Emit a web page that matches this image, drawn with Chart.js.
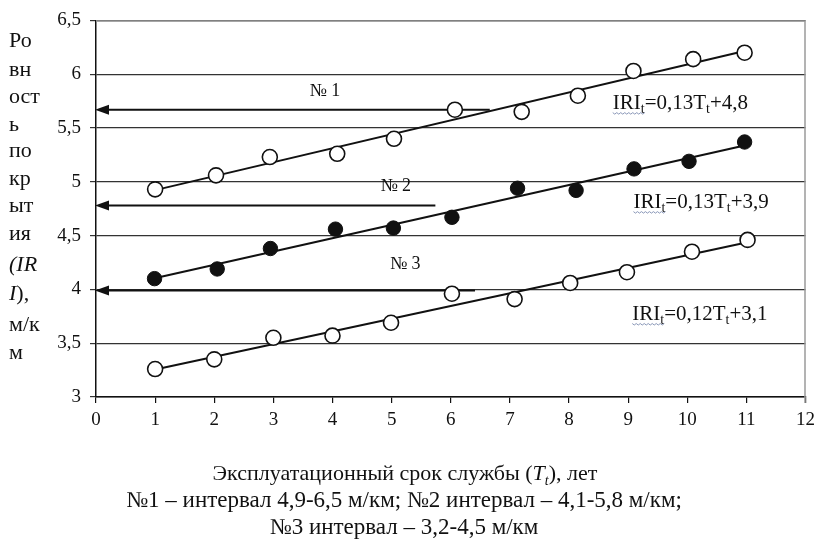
<!DOCTYPE html>
<html>
<head>
<meta charset="utf-8">
<script src="https://cdn.jsdelivr.net/npm/chart.js@4"></script>
<style>
html,body{margin:0;padding:0;background:#fff;}
canvas{display:block;}
</style>
</head>
<body>
<canvas id="c" width="821" height="539"></canvas>
<script>
// ---- data ----
const years1 = [1, 2.03, 2.94, 4.08, 5.04, 6.07, 7.2, 8.15, 9.09, 10.1, 10.97];
const iri1   = [4.93, 5.06, 5.23, 5.26, 5.40, 5.67, 5.65, 5.80, 6.03, 6.14, 6.20];
const years2 = [0.99, 2.05, 2.95, 4.05, 5.03, 6.02, 7.13, 8.12, 9.1, 10.03, 10.97];
const iri2   = [4.10, 4.19, 4.38, 4.56, 4.57, 4.67, 4.94, 4.92, 5.12, 5.19, 5.37];
const years3 = [1, 2.0, 3.0, 4.0, 4.99, 6.02, 7.08, 8.02, 8.98, 10.08, 11.02];
const iri3   = [3.26, 3.35, 3.55, 3.57, 3.69, 3.96, 3.91, 4.06, 4.16, 4.35, 4.46];

const arrowLevels  = [5.67, 4.78, 3.99];   // IRI level of each arrow
const arrowEnds    = [6.66, 5.74, 6.41];   // right end (years)
const arrowLabels  = ['№ 1', '№ 2', '№ 3'];
const arrowLabelX  = [3.87, 5.07, 5.23];
const arrowLabelY  = [5.80, 4.91, 4.19];

const eqSlopes     = ['0,13', '0,13', '0,12'];
const eqIntercepts = ['4,8', '3,9', '3,1'];
const eqX          = [8.74, 9.09, 9.07];
const eqY          = [5.68, 4.76, 3.72];

const xTicks = [0,1,2,3,4,5,6,7,8,9,10,11,12];
const yTicks = [3, 3.5, 4, 4.5, 5, 5.5, 6, 6.5];

const yTitleParts = [
  [{t:'Ро'}], [{t:'вн'}], [{t:'ост'}], [{t:'ь'}], [{t:'по'}], [{t:'кр'}],
  [{t:'ыт'}], [{t:'ия'}], [{t:'(', i:true},{t:'IR', i:true}], [{t:'I', i:true},{t:'),'}],
  [{t:'м/к'}], [{t:'м'}]
];
const xTitle = [{t:'Эксплуатационный срок службы ('},{t:'T',i:true},{t:'t',i:true,sub:true},{t:'), лет'}];
const caption1 = '№1 – интервал 4,9-6,5 м/км; №2 интервал – 4,1-5,8 м/км;';
const caption2 = '№3 интервал – 3,2-4,5 м/км';

// ---- helpers ----
function pts(xs, ys){ return xs.map((x,i)=>({x:x, y:ys[i]})); }
function fit(xs, ys){
  const n = xs.length;
  const mx = xs.reduce((a,b)=>a+b,0)/n, my = ys.reduce((a,b)=>a+b,0)/n;
  let sxy=0, sxx=0;
  for(let i=0;i<n;i++){ sxy+=(xs[i]-mx)*(ys[i]-my); sxx+=(xs[i]-mx)*(xs[i]-mx); }
  const b = sxy/sxx, a = my - b*mx;
  const x0 = Math.min(...xs), x1 = Math.max(...xs);
  return [{x:x0, y:a+b*x0},{x:x1, y:a+b*x1}];
}
const FAM = '"Liberation Serif", "Times New Roman", serif';

function drawRich(ctx, x, y, segs, size, align){
  const subSize = Math.round(size*0.65);
  const fontOf = s => (s.i?'italic ':'') + (s.sub?subSize:size) + 'px ' + FAM;
  let w = 0;
  segs.forEach(s=>{ ctx.font = fontOf(s); w += ctx.measureText(s.t).width; });
  let cx = align==='center' ? x - w/2 : x;
  ctx.textAlign = 'left';
  ctx.textBaseline = 'alphabetic';
  segs.forEach(s=>{
    ctx.font = fontOf(s);
    ctx.fillText(s.t, cx, y + (s.sub ? size*0.22 : 0));
    cx += ctx.measureText(s.t).width;
  });
  return w;
}

const decor = {
  id: 'decor',
  beforeDraw(chart){
    const ctx = chart.ctx;
    ctx.save();
    ctx.fillStyle = '#fff';
    ctx.fillRect(0,0,chart.width,chart.height);
    ctx.restore();
  },
  beforeDatasetsDraw(chart){
    const ctx = chart.ctx, xs = chart.scales.x, ys = chart.scales.y;
    const a = chart.chartArea;
    ctx.save();
    // plot frame top & right (grey)
    ctx.strokeStyle = '#9a9a9a';
    ctx.lineWidth = 1.5;
    ctx.beginPath();
    ctx.moveTo(a.left, a.top+0.5); ctx.lineTo(a.right-0.5, a.top+0.5); ctx.lineTo(a.right-0.5, a.bottom+6);
    ctx.stroke();
    // arrows
    arrowLevels.forEach((lv,i)=>{
      const y = ys.getPixelForValue(lv);
      const x0 = xs.getPixelForValue(0), x1 = xs.getPixelForValue(arrowEnds[i]);
      ctx.strokeStyle = '#111';
      ctx.lineWidth = 2;
      ctx.beginPath();
      ctx.moveTo(x0+10, y); ctx.lineTo(x1, y);
      ctx.stroke();
      ctx.fillStyle = '#111';
      ctx.beginPath();
      ctx.moveTo(x0-1, y); ctx.lineTo(x0+13, y-5); ctx.lineTo(x0+13, y+5); ctx.closePath();
      ctx.fill();
      ctx.font = '18px ' + FAM;
      ctx.textAlign = 'center';
      ctx.textBaseline = 'alphabetic';
      ctx.fillText(arrowLabels[i], xs.getPixelForValue(arrowLabelX[i]), ys.getPixelForValue(arrowLabelY[i]));
    });
    ctx.restore();
  },
  afterDraw(chart){
    const ctx = chart.ctx, xs = chart.scales.x, ys = chart.scales.y;
    ctx.save();
    ctx.fillStyle = '#111';
    // equations
    eqSlopes.forEach((sl,i)=>{
      const x = xs.getPixelForValue(eqX[i]), y = ys.getPixelForValue(eqY[i]);
      const segs = [{t:'IRI'},{t:'t',sub:true},{t:'='+sl+'T'},{t:'t',sub:true},{t:'+'+eqIntercepts[i]}];
      ctx.font = '21px ' + FAM;
      const wIRI = ctx.measureText('IRI').width + 5;
      drawRich(ctx, x, y, segs, 21, 'left');
      // spell-check style wavy underline
      ctx.strokeStyle = '#8a98b8';
      ctx.lineWidth = 1;
      ctx.beginPath();
      for(let k=0;k<=wIRI;k+=2){
        const yy = y + 4 + ((k/2)%2 ? 1.5 : 0);
        if(k===0) ctx.moveTo(x+k, yy); else ctx.lineTo(x+k, yy);
      }
      ctx.stroke();
    });
    // y title stack
    const baselines = [47, 76, 103, 131, 157, 185, 212, 240, 271, 300, 331, 359];
    yTitleParts.forEach((segs,i)=>{ drawRich(ctx, 9, baselines[i], segs, 22, 'left'); });
    // x title + captions
    drawRich(ctx, 405, 480, xTitle, 22, 'center');
    drawRich(ctx, 404, 507, [{t:caption1}], 23, 'center');
    drawRich(ctx, 404, 534, [{t:caption2}], 23, 'center');
    ctx.restore();
  }
};

const openPt = {backgroundColor:'#fff', borderColor:'#111', borderWidth:1.6, pointRadius:7.5};
const trend = {type:'line', borderColor:'#111', borderWidth:2, pointRadius:0, fill:false, order:2};

new Chart(document.getElementById('c'), {
  type: 'scatter',
  data: {
    datasets: [
      Object.assign({label:'№1', data: pts(years1, iri1), order:1}, openPt),
      {label:'№2', data: pts(years2, iri2), order:1, backgroundColor:'#111', borderColor:'#111', borderWidth:1, pointRadius:7.2},
      Object.assign({label:'№3', data: pts(years3, iri3), order:1}, openPt),
      Object.assign({label:'t1', data: fit(years1, iri1)}, trend),
      Object.assign({label:'t2', data: fit(years2, iri2)}, trend),
      Object.assign({label:'t3', data: fit(years3, iri3)}, trend)
    ]
  },
  options: {
    responsive: false,
    animation: false,
    devicePixelRatio: 1,
    layout: {padding: {top: 19, right: 10, left: 0, bottom: 0}},
    plugins: {legend: {display:false}, tooltip: {enabled:false}},
    elements: {line: {tension: 0}},
    scales: {
      x: {
        type: 'linear', min: 0, max: 12,
        afterBuildTicks: s => { s.ticks = xTicks.map(v=>({value:v})); },
        afterFit: s => { s.height = 142; },
        ticks: {color:'#111', font:{family:FAM, size:19}, padding: 6, maxRotation:0, autoSkip:false},
        grid: {drawOnChartArea:false, drawTicks:true, tickLength:6, color:'#111', lineWidth:1.2},
        border: {color:'#111', width:1.5}
      },
      y: {
        type: 'linear', min: 3, max: 6.5,
        afterBuildTicks: s => { s.ticks = yTicks.map(v=>({value:v})); },
        afterFit: s => { s.width = 96; },
        ticks: {color:'#111', font:{family:FAM, size:19}, padding: 9,
                callback: v => String(v).replace('.', ',')},
        grid: {color:'#333', lineWidth:1.2, tickLength:6, drawTicks:true},
        border: {color:'#111', width:1.5}
      }
    }
  },
  plugins: [decor]
});
</script>
</body>
</html>
